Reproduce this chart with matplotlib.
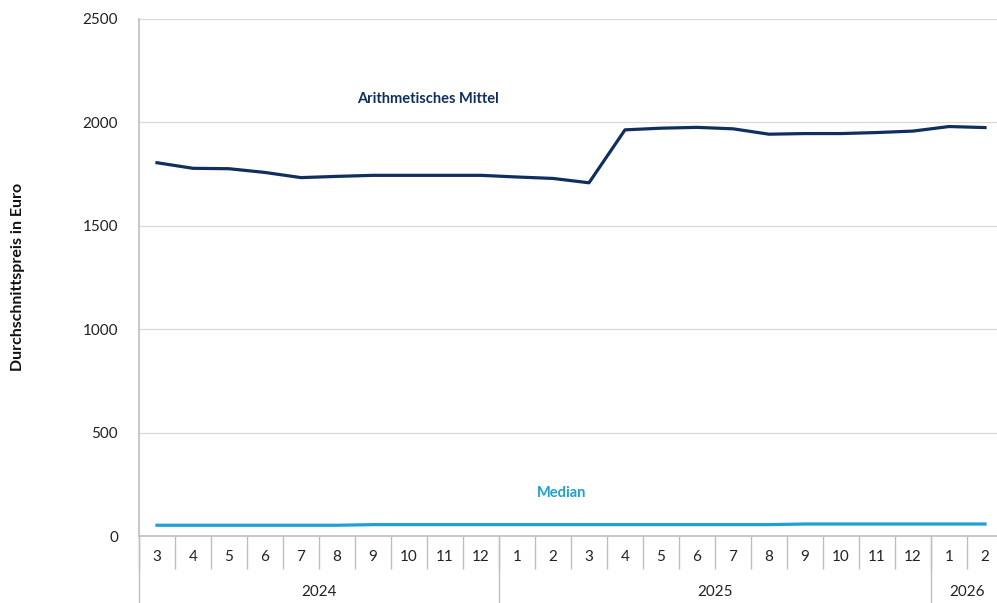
import matplotlib.pyplot as plt
import matplotlib.transforms as mtransforms

# Monatskategorien (3/2024 bis 2/2026)
months = ['3', '4', '5', '6', '7', '8', '9', '10', '11', '12',
          '1', '2', '3', '4', '5', '6', '7', '8', '9', '10', '11', '12',
          '1', '2']
years = ['2024', '2025', '2026']
year_counts = [10, 12, 2]

mittel = [1805, 1778, 1776, 1758, 1733, 1739, 1744, 1744, 1744, 1744,
          1736, 1729, 1708, 1964, 1972, 1976, 1969, 1943, 1946, 1946, 1951, 1958,
          1980, 1975]
median = [52, 52, 52, 52, 52, 52, 55, 55, 55, 55,
          55, 55, 55, 55, 55, 55, 55, 55, 58, 58, 58, 58,
          58, 58]

plt.rcParams['font.family'] = ['Lato', 'DejaVu Sans']

navy = '#0f2f5f'
light = '#1ba1d3'
grey = '#bfbfbf'

fig = plt.figure(figsize=(9.97, 6.03), dpi=100)
W, H = 997, 603
ax = fig.add_axes([139 / W, (H - 536) / H, (1003 - 139) / W, (536 - 19) / H])

x = list(range(len(months)))
ax.plot(x, mittel, color=navy, lw=2.3, solid_joinstyle='round')
ax.plot(x, median, color=light, lw=2.3)

ax.set_xlim(-0.5, len(months) - 0.5)
ax.set_ylim(0, 2500)
ax.set_yticks([0, 500, 1000, 1500, 2000, 2500])
ax.yaxis.grid(True, color='#d9d9d9', lw=0.9)
ax.set_axisbelow(True)
for s in ['top', 'right']:
    ax.spines[s].set_visible(False)
ax.spines['left'].set_color(grey)
ax.spines['bottom'].set_color(grey)
ax.spines['left'].set_linewidth(1.2)
ax.spines['bottom'].set_linewidth(1.2)
ax.tick_params(axis='y', length=0, pad=15, labelsize=11, labelcolor='#222222')

# Monatsbeschriftungen
ax.set_xticks(x)
ax.set_xticklabels(months)
ax.tick_params(axis='x', which='major', length=0, pad=10, labelsize=11, labelcolor='#222222')
ax.set_xticks([i - 0.5 for i in range(len(months) + 1)], minor=True)
ax.tick_params(axis='x', which='minor', length=24, color=grey, width=1)

# Jahresgruppen
trans = mtransforms.blended_transform_factory(ax.transData, ax.transAxes)
ybot = -(603 - 536) / (536 - 19)
start = -0.5
for yr, n in zip(years, year_counts):
    ax.plot([start, start], [0, ybot], color=grey, lw=1, transform=trans, clip_on=False)
    ax.text(start + n / 2, -(592 - 536) / (536 - 19), yr, transform=trans,
            ha='center', va='center', fontsize=11, color='#222222')
    start += n

ax.text(7.53, 2115, 'Arithmetisches Mittel', color=navy, fontsize=10.5,
        fontweight='bold', ha='center', va='center')
ax.text(11.25, 207, 'Median', color=light, fontsize=10.5,
        fontweight='bold', ha='center', va='center')

fig.text(18 / W, 1 - 277 / H, 'Durchschnittspreis in Euro', rotation=90,
         fontsize=11.5, fontweight='bold', ha='center', va='center', color='#111111')

fig.savefig('out.png', dpi=100)
